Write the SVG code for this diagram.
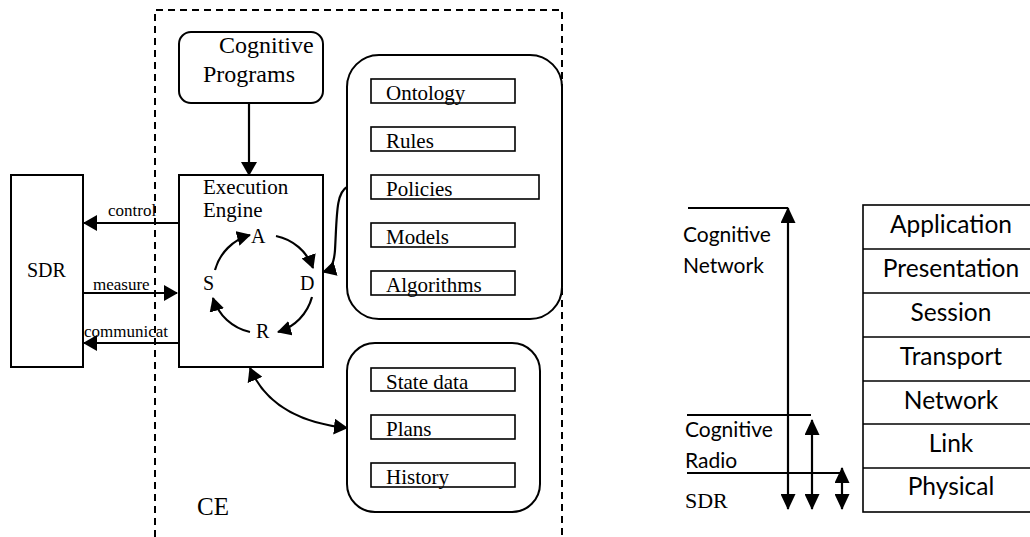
<svg xmlns="http://www.w3.org/2000/svg" width="1030" height="537" viewBox="0 0 1030 537">
<style>
.serif{font-family:"Liberation Serif","Times New Roman",serif;fill:#000}
.sans{font-family:Lato,"Open Sans",sans-serif;fill:#000}
.box{fill:#fff;stroke:#000;stroke-width:2}
.ibox{fill:#fff;stroke:#000;stroke-width:1.6}
.ln{fill:none;stroke:#000;stroke-width:2.2}
.dash{fill:none;stroke:#000;stroke-width:2;stroke-dasharray:7 5}
</style>
<defs>
<marker id="ah" viewBox="0 0 14 16" markerWidth="14" markerHeight="16" refX="13" refY="8" orient="auto-start-reverse" markerUnits="userSpaceOnUse"><path d="M0,0 L14,8 L0,16 z" fill="#000"/></marker>
<marker id="ahs" viewBox="0 0 14 15" markerWidth="14" markerHeight="15" refX="13" refY="7.5" orient="auto-start-reverse" markerUnits="userSpaceOnUse"><path d="M0,0 L14,7.5 L0,15 z" fill="#000"/></marker>
<marker id="ahr" viewBox="0 0 16 15" markerWidth="16" markerHeight="15" refX="15" refY="7.5" orient="auto-start-reverse" markerUnits="userSpaceOnUse"><path d="M0,0 L16,7.5 L0,15 z" fill="#000"/></marker>
</defs>
<rect width="1030" height="537" fill="#fff"/>

<g id="ce-boundary">
<path class="dash" d="M155,537 L155,10 L562,10 L562,537"/>
<text class="serif" x="197" y="515" font-size="25">CE</text>
</g>

<g id="sdr">
<rect class="box" x="11" y="175" width="72" height="192"/>
<text class="serif" x="27" y="277" font-size="20">SDR</text>
</g>

<g id="cognitive-programs">
<rect class="box" x="179" y="32" width="144" height="71" rx="12"/>
<text class="serif" x="219" y="53" font-size="24">Cognitive</text>
<text class="serif" x="203" y="82" font-size="24">Programs</text>
</g>

<g id="execution-engine">
<rect class="box" x="179" y="175" width="144" height="192"/>
<text class="serif" x="203" y="194" font-size="21">Execution</text>
<text class="serif" x="203" y="217" font-size="21">Engine</text>
<text class="serif" x="251" y="243" font-size="20">A</text>
<text class="serif" x="300" y="290" font-size="20">D</text>
<text class="serif" x="203" y="290" font-size="20">S</text>
<text class="serif" x="256" y="338" font-size="20">R</text>
<path class="ln" d="M276,236 A50,50 0 0 1 313,268" marker-end="url(#ahs)"/>
<path class="ln" d="M312,297 A50,50 0 0 1 278,332" marker-end="url(#ahs)"/>
<path class="ln" d="M250,332 A50,50 0 0 1 213,298" marker-end="url(#ahs)"/>
<path class="ln" d="M215,270 A50,50 0 0 1 250,235" marker-end="url(#ahs)"/>
</g>

<g id="knowledge-base">
<rect class="box" x="347" y="55" width="215" height="264" rx="32"/>
<rect class="ibox" x="371" y="79" width="144" height="24"/>
<text class="serif" x="386" y="100" font-size="21">Ontology</text>
<rect class="ibox" x="371" y="127" width="144" height="24"/>
<text class="serif" x="386" y="148" font-size="21">Rules</text>
<rect class="ibox" x="371" y="175" width="168" height="24"/>
<text class="serif" x="386" y="196" font-size="21">Policies</text>
<rect class="ibox" x="371" y="223" width="144" height="24"/>
<text class="serif" x="386" y="244" font-size="21">Models</text>
<rect class="ibox" x="371" y="271" width="144" height="24"/>
<text class="serif" x="386" y="292" font-size="21">Algorithms</text>
</g>

<g id="state-store">
<rect class="box" x="347" y="343" width="193" height="169" rx="28"/>
<rect class="ibox" x="371" y="368" width="144" height="23"/>
<text class="serif" x="386" y="389" font-size="21">State data</text>
<rect class="ibox" x="371" y="415" width="144" height="24"/>
<text class="serif" x="386" y="436" font-size="21">Plans</text>
<rect class="ibox" x="371" y="463" width="144" height="24"/>
<text class="serif" x="386" y="484" font-size="21">History</text>
</g>

<g id="connectors">
<line class="ln" x1="249" y1="103" x2="249" y2="175" marker-end="url(#ah)"/>
<line class="ln" x1="179" y1="223" x2="84" y2="223" marker-end="url(#ah)"/>
<text class="serif" x="108" y="216" font-size="17">control</text>
<line class="ln" x1="83" y1="293" x2="177" y2="293" marker-end="url(#ah)"/>
<text class="serif" x="93" y="290" font-size="17">measure</text>
<line class="ln" x1="179" y1="343" x2="84" y2="343" marker-end="url(#ah)"/>
<text class="serif" x="84" y="337" font-size="17">communicat</text>
<path class="ln" d="M347,187 C336,193 337,215 335,250 C334,265 330,270 323,272" marker-end="url(#ahs)"/>
<path class="ln" d="M250,368 Q272,420 347,428" marker-start="url(#ah)" marker-end="url(#ah)"/>
</g>

<g id="layer-mapping">
<line class="ln" x1="688" y1="208" x2="788" y2="208"/>
<line class="ln" x1="788" y1="208" x2="788" y2="509" marker-start="url(#ahr)" marker-end="url(#ahr)"/>
<text class="sans" x="683" y="242" font-size="21">Cognitive</text>
<text class="sans" x="683" y="273" font-size="21">Network</text>
<line class="ln" x1="687" y1="415" x2="811" y2="415"/>
<line class="ln" x1="812" y1="420" x2="812" y2="509" marker-start="url(#ahr)" marker-end="url(#ahr)"/>
<text class="sans" x="685" y="437" font-size="21">Cognitive</text>
<text class="sans" x="685" y="468" font-size="21">Radio</text>
<line class="ln" x1="687" y1="473" x2="840" y2="473"/>
<line class="ln" x1="842" y1="468" x2="842" y2="509" marker-start="url(#ahr)" marker-end="url(#ahr)"/>
<text class="serif" x="685" y="508" font-size="22">SDR</text>
</g>

<g id="osi-stack">
<rect class="ibox" x="863" y="205" width="175" height="307"/>
<line class="ibox" x1="863" y1="249" x2="1040" y2="249"/>
<line class="ibox" x1="863" y1="293" x2="1040" y2="293"/>
<line class="ibox" x1="863" y1="337" x2="1040" y2="337"/>
<line class="ibox" x1="863" y1="381" x2="1040" y2="381"/>
<line class="ibox" x1="863" y1="424" x2="1040" y2="424"/>
<line class="ibox" x1="863" y1="468" x2="1040" y2="468"/>
<text class="sans" x="951" y="233" font-size="24.5" text-anchor="middle">Application</text>
<text class="sans" x="951" y="277" font-size="24.5" text-anchor="middle">Presentation</text>
<text class="sans" x="951" y="321" font-size="24.5" text-anchor="middle">Session</text>
<text class="sans" x="951" y="365" font-size="24.5" text-anchor="middle">Transport</text>
<text class="sans" x="951" y="409" font-size="24.5" text-anchor="middle">Network</text>
<text class="sans" x="951" y="452" font-size="24.5" text-anchor="middle">Link</text>
<text class="sans" x="951" y="495" font-size="24.5" text-anchor="middle">Physical</text>
</g>
</svg>
